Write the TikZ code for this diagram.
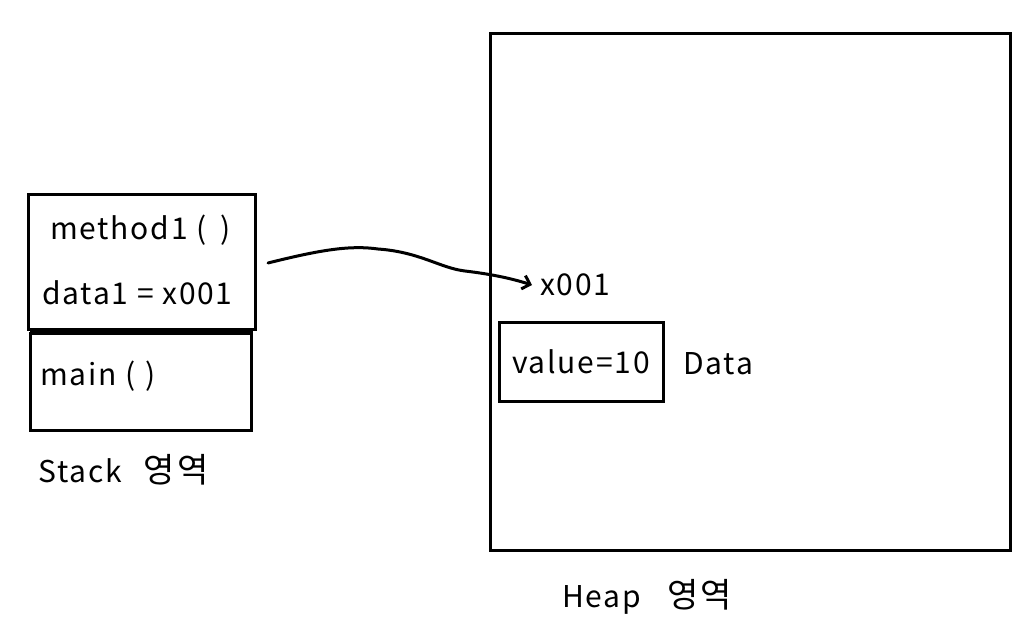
\documentclass[tikz,border=0pt]{standalone}
\usepackage{fontspec}
\setmainfont{Noto Sans CJK KR}[LetterSpace=6]
\usetikzlibrary{arrows.meta}
\begin{document}
\begin{tikzpicture}[x=1pt,y=-1pt,
  box/.style={draw=black,line width=3pt},
  lbl/.style={inner sep=0pt,font=\fontsize{30}{34}\selectfont}]
\useasboundingbox[fill=white] (0,0) rectangle (1027,642);
% stack
\draw[box] (28,194) rectangle (255,329);
\draw[box] (30,333) rectangle (251,430);
\draw[line width=5pt] (30,331) -- (253,331);
\node[lbl,anchor=west] (m1) at (50,230) {method1 (\ \,)};
\node[lbl,anchor=west] (d1) at (42,293) {data1 = x001};
\node[lbl,anchor=west] (mn) at (40,376) {main (\,\,)};
\node[lbl,anchor=west] (st) at (38,470) {Stack\hspace{22pt}{\fontsize{34}{38}\selectfont 영역}};
% heap
\draw[box] (490,34) rectangle (1010,550);
\node[lbl,anchor=west] (x1) at (540,285) {x001};
\node[draw=black,line width=3pt,minimum width=164pt,minimum height=79pt,inner sep=0pt,font=\fontsize{30}{34}\selectfont] (val) at (581,362) {value=10};
\node[lbl,anchor=west] (dt) at (683,364) {Data};
\node[lbl,anchor=west] (hp) at (562,597) {Heap\hspace{26pt}{\fontsize{34}{38}\selectfont 영역}};
% arrow
\coordinate (a0) at (268,263);
\draw[line width=3pt,line cap=round,-{Straight Barb[length=7pt,width=14pt,line width=3pt]}]
  (a0) .. controls (320,250) and (350,245) .. (378,249)
  .. controls (420,252) and (440,268) .. (465,271)
  .. controls (490,274) and (510,278) .. ([xshift=-8pt]x1.west);
\end{tikzpicture}
\end{document}
